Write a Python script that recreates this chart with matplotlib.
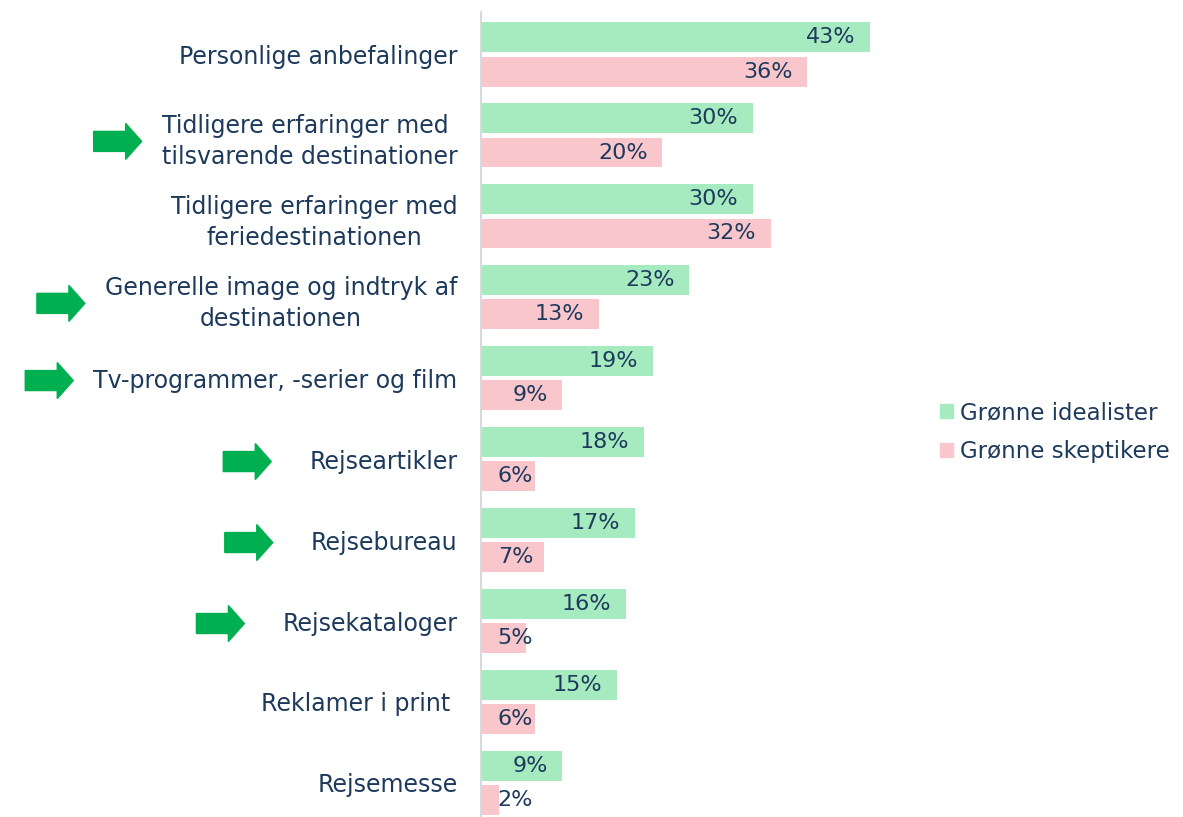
import numpy as np
import matplotlib.pyplot as plt
from matplotlib.patches import Patch, Polygon
from matplotlib.transforms import IdentityTransform

categories = ['Personlige anbefalinger',
              'Tidligere erfaringer med \ntilsvarende destinationer',
              'Tidligere erfaringer med\nferiedestinationen',
              'Generelle image og indtryk af\ndestinationen',
              'Tv-programmer, -serier og film',
              'Rejseartikler',
              'Rejsebureau',
              'Rejsekataloger',
              'Reklamer i print ',
              'Rejsemesse']
idealister = [43, 30, 30, 23, 19, 18, 17, 16, 15, 9]
skeptikere = [36, 20, 32, 13, 9, 6, 7, 5, 6, 2]
arrow_rows = [1, 3, 4, 5, 6, 7]
series_names = ['Grønne idealister', 'Grønne skeptikere']

green = '#a6eac0'
pink = '#f9c6cc'
navy = '#1d3a5c'
arrow_green = '#00b050'

plt.rcParams['font.family'] = ['DejaVu Sans']

fig = plt.figure(figsize=(11.83, 8.17), dpi=100)
ax = fig.add_axes([481 / 1183, 0, (930 - 481) / 1183, (817 - 12) / 817])

y = np.arange(len(categories))
off = 0.215
h = 0.37
ax.barh(y - off, idealister, height=h, color=green)
ax.barh(y + off, skeptikere, height=h, color=pink)

ax.set_xlim(0, 49.6)
ax.set_ylim(9.42, -0.52)

for vals, sign in ((idealister, -1), (skeptikere, 1)):
    for i, v in enumerate(vals):
        if v <= 7:
            ax.text(1.85, i + sign * off, f'{v}%', ha='left', va='center',
                    fontsize=16, color=navy)
        else:
            ax.text(v - 1.6, i + sign * off, f'{v}%', ha='right', va='center',
                    fontsize=16, color=navy)

ax.set_yticks(y)
ax.set_yticklabels(categories, fontsize=17, color=navy, linespacing=1.4)
for lab in ax.get_yticklabels():
    lab.set_multialignment('center')
ax.tick_params(axis='y', length=0, pad=17)
ax.set_xticks([])
for s in ['top', 'right', 'bottom']:
    ax.spines[s].set_visible(False)
ax.spines['left'].set_color('#d9d9d9')
ax.spines['left'].set_linewidth(1.5)

handles = [Patch(color=green), Patch(color=pink)]
fig.legend(handles, series_names, loc='center left', bbox_to_anchor=(0.795, 0.471),
           frameon=False, fontsize=16.5, labelcolor=navy, handlelength=0.55,
           handleheight=0.55, handletextpad=0.3, labelspacing=0.7,
           borderaxespad=0, borderpad=0)

# green arrows in front of some labels
fig.canvas.draw()
renderer = fig.canvas.get_renderer()
labels = ax.get_yticklabels()
for r in arrow_rows:
    bb = labels[r].get_window_extent(renderer)
    yc = (bb.y0 + bb.y1) / 2
    gap = 20 if r in (1, 3, 4) else 38
    x1 = bb.x0 - gap
    x0 = x1 - 48
    hx = x1 - 16
    pts = [(x0, yc - 10), (hx, yc - 10), (hx, yc - 18), (x1, yc),
           (hx, yc + 18), (hx, yc + 10), (x0, yc + 10)]
    fig.patches.append(Polygon(pts, closed=True, color=arrow_green,
                               transform=IdentityTransform(), figure=fig))

fig.savefig('out.png', dpi=100)
